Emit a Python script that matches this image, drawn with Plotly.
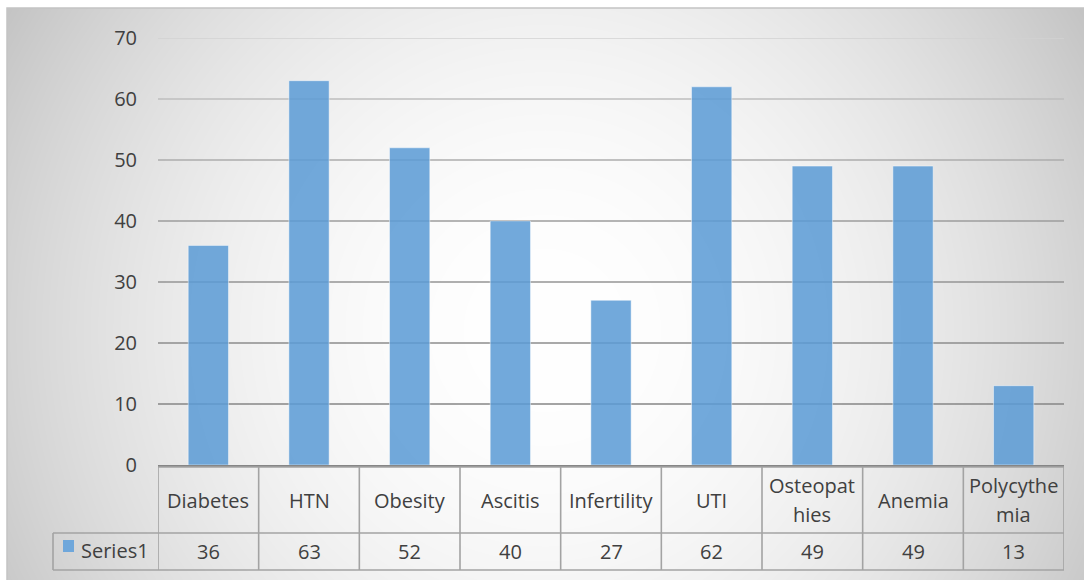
import base64, struct, zlib
import numpy as np
import plotly.graph_objects as go

# ---------------- data ----------------
categories = ["Diabetes", "HTN", "Obesity", "Ascitis", "Infertility", "UTI",
              "Osteopathies", "Anemia", "Polycythemia"]
header_lines = [["Diabetes"], ["HTN"], ["Obesity"], ["Ascitis"], ["Infertility"], ["UTI"],
                ["Osteopat", "hies"], ["Anemia"], ["Polycythe", "mia"]]
values = [36, 63, 52, 40, 27, 62, 49, 49, 13]
series_name = "Series1"
y_ticks = [0, 10, 20, 30, 40, 50, 60, 70]

# ---------------- styles / geometry ----------------
W, H = 1084, 580
L, R, T, B = 158, 20, 38, 115
PLOT_H = H - T - B
TEXT = "#404040"
FONT = "Open Sans"
BAR = "rgba(91,155,213,0.86)"
grid_colors = {10: "#868686", 20: "#8d8d8d", 30: "#949494", 40: "#9d9d9d",
               50: "#acacac", 60: "#bebebe", 70: "#d2d2d2"}
TABLE_LINE = "#a3a3a3"


def py(ypx):
    """pixel row -> paper y"""
    return (H - B - ypx) / PLOT_H


def px(xpx):
    """pixel column -> paper x"""
    return (xpx - L) / (W - L - R)


def gradient_png(x0, y0, w, h):
    yy, xx = np.mgrid[0:h, 0:w]
    X = xx + x0
    Y = yy + y0
    d2 = (X - 545.0) ** 2 + (Y - 330.0) ** 2
    v = np.clip(255 - d2 * 0.000150, 0, 255).astype(np.uint8)
    raw = b"".join(b"\x00" + row.tobytes() for row in v)

    def chunk(tag, data):
        c = struct.pack(">I", len(data)) + tag + data
        return c + struct.pack(">I", zlib.crc32(tag + data) & 0xffffffff)

    png = b"\x89PNG\r\n\x1a\n"
    png += chunk(b"IHDR", struct.pack(">IIBBBBB", w, h, 8, 0, 0, 0, 0))
    png += chunk(b"IDAT", zlib.compress(raw, 9))
    png += chunk(b"IEND", b"")
    return "data:image/png;base64," + base64.b64encode(png).decode()


FX0, FY0 = 7, 8
bg_src = gradient_png(FX0, FY0, W - FX0, H - FY0)

fig = go.Figure()
fig.add_trace(go.Bar(
    x=list(range(len(categories))), y=values, name=series_name,
    marker=dict(color=BAR, line=dict(color="rgba(255,255,255,0.45)", width=1)),
    hovertext=categories, showlegend=False,
))

shapes = []
# chart frame
shapes.append(dict(type="rect", xref="paper", yref="paper",
                   x0=px(FX0), x1=px(W + 2), y0=py(FY0), y1=py(H + 2),
                   line=dict(color="#c4c4c4", width=1.5), layer="below"))
# gridlines
for t in y_ticks:
    if t == 0:
        continue
    shapes.append(dict(type="line", xref="paper", yref="y", x0=0, x1=1, y0=t, y1=t,
                       line=dict(color=grid_colors[t], width=1.6), layer="below"))

# data table
n = len(categories)
top_y, mid_y, bot_y = py(467), py(533), py(570)
leg_x = px(53)
for i in range(n + 1):
    shapes.append(dict(type="line", xref="x", yref="paper", x0=i - 0.5, x1=i - 0.5,
                       y0=top_y, y1=bot_y, line=dict(color=TABLE_LINE, width=1.6)))
shapes.append(dict(type="line", xref="paper", yref="paper", x0=leg_x, x1=leg_x,
                   y0=mid_y, y1=bot_y, line=dict(color=TABLE_LINE, width=1.6)))
shapes.append(dict(type="line", xref="paper", yref="paper", x0=0, x1=1,
                   y0=top_y, y1=top_y, line=dict(color=TABLE_LINE, width=1.6)))
for yy in (mid_y, bot_y):
    shapes.append(dict(type="line", xref="paper", yref="paper", x0=leg_x, x1=1,
                       y0=yy, y1=yy, line=dict(color=TABLE_LINE, width=1.6)))
# legend key
shapes.append(dict(type="rect", xref="paper", yref="paper",
                   x0=px(63), x1=px(74), y0=py(552), y1=py(540),
                   fillcolor="#6fa7db", line=dict(width=0)))

annotations = []
for i, lines in enumerate(header_lines):
    if len(lines) == 1:
        ys = [500]
    else:
        ys = [485, 514]
    for txt, yc in zip(lines, ys):
        annotations.append(dict(x=i, y=py(yc), xref="x", yref="paper", text=txt,
                                showarrow=False, xanchor="center", yanchor="middle",
                                font=dict(family=FONT, size=20, color=TEXT)))
for i, v in enumerate(values):
    annotations.append(dict(x=i, y=py(551), xref="x", yref="paper", text=str(v),
                            showarrow=False, xanchor="center", yanchor="middle",
                            font=dict(family=FONT, size=20, color=TEXT)))
annotations.append(dict(x=px(79), y=py(550), xref="paper", yref="paper", text=series_name,
                        showarrow=False, xanchor="left", yanchor="middle",
                        font=dict(family=FONT, size=20, color=TEXT)))

fig.update_layout(
    width=W, height=H,
    margin=dict(l=L, r=R, t=T, b=B, autoexpand=False),
    paper_bgcolor="white", plot_bgcolor="rgba(0,0,0,0)",
    bargap=0.6,
    font=dict(family=FONT, size=20, color=TEXT),
    xaxis=dict(range=[-0.5, n - 0.5], showticklabels=False, showgrid=False,
               zeroline=False, showline=True, linecolor="#868686", linewidth=2,
               ticks="", fixedrange=True),
    yaxis=dict(range=[0, 70], tickvals=y_ticks, showgrid=False, zeroline=False,
               showline=False, ticks="", ticklabelstandoff=20,
               tickfont=dict(family=FONT, size=20, color=TEXT)),
    shapes=shapes,
    annotations=annotations,
    images=[dict(source=bg_src, xref="paper", yref="paper", x=px(FX0), y=py(FY0),
                 sizex=(W - FX0) / (W - L - R), sizey=(H - FY0) / PLOT_H,
                 xanchor="left", yanchor="top", sizing="stretch", layer="below")],
)

fig.write_html("out.html")
